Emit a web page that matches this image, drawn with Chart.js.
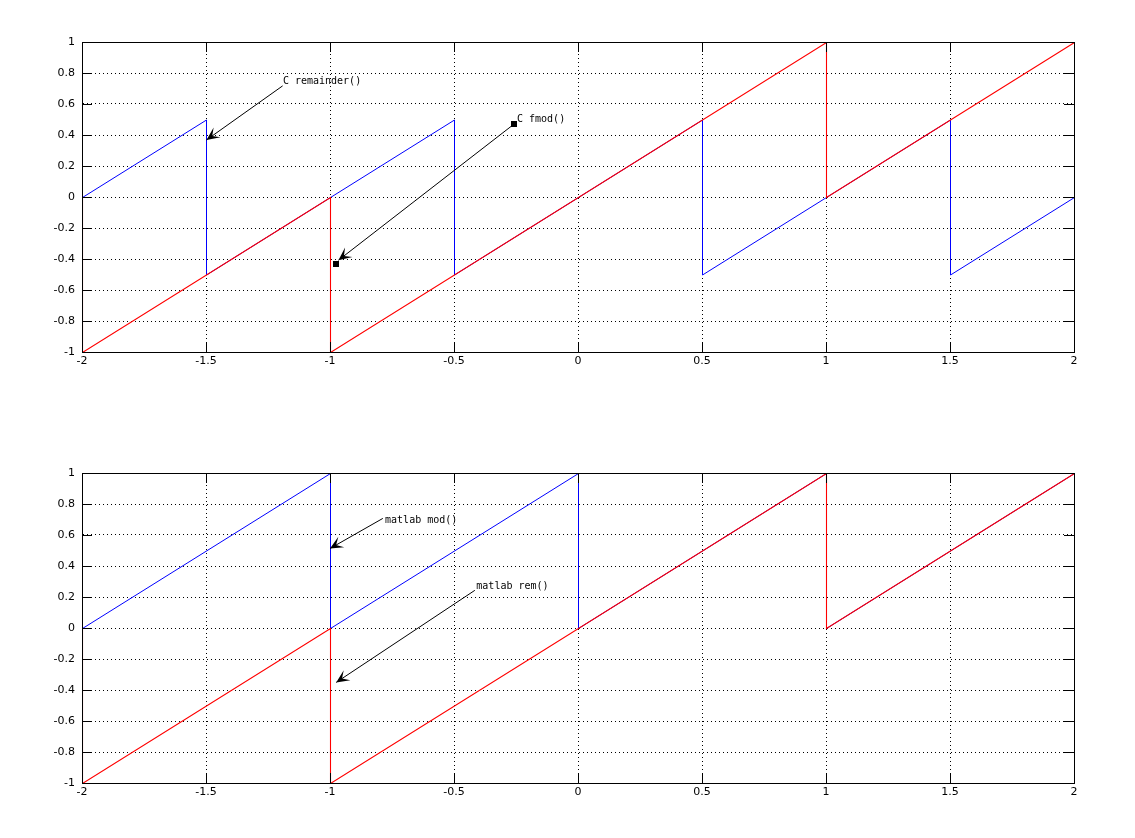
<!DOCTYPE html>
<html>
<head>
<meta charset="utf-8">
<script src="https://cdn.jsdelivr.net/npm/chart.js@4/dist/chart.umd.min.js"></script>
<style>
  html, body { margin: 0; padding: 0; background: #fff; }
  #wrap { position: relative; width: 1135px; height: 838px; }
  .box { position: absolute; left: 0; width: 1135px; }
  #top { top: 0; height: 420px; }
  #bottom { top: 420px; height: 418px; }
</style>
</head>
<body>
<div id="wrap">
  <div class="box" id="top"><canvas id="chartTop"></canvas></div>
  <div class="box" id="bottom"><canvas id="chartBottom"></canvas></div>
</div>
<script>
// tick values
const xTicks = [-2, -1.5, -1, -0.5, 0, 0.5, 1, 1.5, 2];
const yTicks = [-1, -0.8, -0.6, -0.4, -0.2, 0, 0.2, 0.4, 0.6, 0.8, 1];

// top plot: C fmod() (red) and C remainder() (blue)
const fmodX = [-2, -2, -1, -1, 1, 1, 2];
const fmodY = [0, -1, 0, -1, 1, 0, 1];
const remainderX = [-2, -1.5, -1.5, -0.5, -0.5, 0.5, 0.5, 1.5, 1.5, 2];
const remainderY = [0, 0.5, -0.5, 0.5, -0.5, 0.5, -0.5, 0.5, -0.5, 0];

// bottom plot: matlab rem() (red) and matlab mod() (blue)
const remX = [-2, -2, -1, -1, 1, 1, 2];
const remY = [0, -1, 0, -1, 1, 0, 1];
const modX = [-2, -1, -1, 0, 0, 1, 1, 2];
const modY = [0, 1, 0, 1, 0, 1, 0, 1];

// annotations (data units): text, arrow start, arrow tip
const topNotes = [
  { text: "C remainder()", tx: -1.19, ty: 0.748, x1: -1.191, y1: 0.717, x2: -1.498, y2: 0.368, squares: [] },
  { text: "C fmod()", tx: -0.246, ty: 0.502, x1: -0.259, y1: 0.469, x2: -0.966, y2: -0.408,
    squares: [[-0.259, 0.469], [-0.976, -0.432]] }
];
const bottomNotes = [
  { text: "matlab mod()", tx: -0.778, ty: 0.696, x1: -0.787, y1: 0.707, x2: -1.0, y2: 0.513, squares: [] },
  { text: "matlab rem()", tx: -0.41, ty: 0.27, x1: -0.416, y1: 0.243, x2: -0.975, y2: -0.351, squares: [] }
];

function pts(xs, ys) {
  return xs.map((x, i) => ({ x: x, y: ys[i] }));
}

function fmtTick(v) {
  if (Math.abs(v) < 1e-9) return "0";
  return String(Math.round(v * 10) / 10);
}

// frame with inner ticks on all four sides + annotations
const frameAndNotes = {
  id: "frameAndNotes",
  beforeDatasetsDraw(chart) {
    // shift half a pixel so vertical jumps come out crisp
    chart.ctx.save();
    chart.ctx.translate(0.5, 0.5);
  },
  afterDatasetsDraw(chart, args, opts) {
    const ctx = chart.ctx;
    ctx.restore();
    const a = chart.chartArea;
    const xs = chart.scales.x, ys = chart.scales.y;
    const tl = 10;
    ctx.save();
    ctx.strokeStyle = "#000";
    ctx.lineWidth = 1;
    ctx.beginPath();
    ctx.rect(Math.round(a.left) + 0.5, Math.round(a.top) + 0.5,
      Math.round(a.right - a.left), Math.round(a.bottom - a.top));
    xTicks.forEach(v => {
      const p = Math.round(xs.getPixelForValue(v)) + 0.5;
      ctx.moveTo(p, a.bottom); ctx.lineTo(p, a.bottom - tl);
      ctx.moveTo(p, a.top); ctx.lineTo(p, a.top + tl);
    });
    yTicks.forEach(v => {
      const p = Math.round(ys.getPixelForValue(v)) + 0.5;
      ctx.moveTo(a.left, p); ctx.lineTo(a.left + tl, p);
      ctx.moveTo(a.right, p); ctx.lineTo(a.right - tl, p);
    });
    ctx.stroke();

    // annotations
    const notes = opts.notes || [];
    ctx.fillStyle = "#000";
    ctx.font = "10px 'DejaVu Sans Mono'";
    ctx.textBaseline = "middle";
    ctx.textAlign = "left";
    notes.forEach(n => {
      const sx = xs.getPixelForValue(n.x1), sy = ys.getPixelForValue(n.y1);
      const ex = xs.getPixelForValue(n.x2), ey = ys.getPixelForValue(n.y2);
      ctx.beginPath();
      ctx.moveTo(sx, sy); ctx.lineTo(ex, ey);
      ctx.stroke();
      // notched arrow head
      const ang = Math.atan2(ey - sy, ex - sx);
      const L = 13, W = 6, N = 7;
      const c = Math.cos(ang), s = Math.sin(ang);
      ctx.beginPath();
      ctx.moveTo(ex, ey);
      ctx.lineTo(ex - L * c + W * s, ey - L * s - W * c);
      ctx.lineTo(ex - N * c, ey - N * s);
      ctx.lineTo(ex - L * c - W * s, ey - L * s + W * c);
      ctx.closePath();
      ctx.fill();
      n.squares.forEach(q => {
        const qx = xs.getPixelForValue(q[0]), qy = ys.getPixelForValue(q[1]);
        ctx.fillRect(Math.round(qx) - 3, Math.round(qy) - 3, 6, 6);
      });
      ctx.fillText(n.text, xs.getPixelForValue(n.tx), ys.getPixelForValue(n.ty));
    });
    ctx.restore();
  }
};

function makeChart(id, redPts, bluePts, notes, padTop, padBottom) {
  return new Chart(document.getElementById(id), {
    type: "line",
    data: {
      datasets: [
        { data: redPts, borderColor: "#ff0000", borderWidth: 1.1, pointRadius: 0, tension: 0, fill: false, order: 1 },
        { data: bluePts, borderColor: "#0000ff", borderWidth: 1, pointRadius: 0, tension: 0, fill: false, order: 2 }
      ]
    },
    options: {
      responsive: true,
      maintainAspectRatio: false,
      animation: false,
      events: [],
      layout: { padding: { top: padTop, bottom: padBottom, left: 0, right: 61 } },
      plugins: {
        legend: { display: false },
        tooltip: { enabled: false },
        frameAndNotes: { notes: notes }
      },
      scales: {
        x: {
          type: "linear",
          min: -2, max: 2,
          afterBuildTicks: s => { s.ticks = xTicks.map(v => ({ value: v })); },
          afterFit: s => { s.height = 30; },
          ticks: {
            color: "#000",
            font: { family: "'DejaVu Sans'", size: 11 },
            padding: 3,
            maxRotation: 0,
            autoSkip: false,
            callback: v => fmtTick(v)
          },
          grid: { color: "#000", lineWidth: 1, drawTicks: false },
          border: { display: true, color: "#000", dash: [1, 3] }
        },
        y: {
          min: -1, max: 1,
          afterBuildTicks: s => { s.ticks = yTicks.map(v => ({ value: v })); },
          afterFit: s => { s.width = 82; },
          ticks: {
            color: "#000",
            font: { family: "'DejaVu Sans'", size: 11 },
            padding: 7,
            autoSkip: false,
            callback: v => fmtTick(v)
          },
          grid: { color: "#000", lineWidth: 1, drawTicks: false },
          border: { display: true, color: "#000", dash: [1, 3] }
        }
      }
    },
    plugins: [frameAndNotes]
  });
}

makeChart("chartTop", pts(fmodX, fmodY), pts(remainderX, remainderY), topNotes, 42, 38);
makeChart("chartBottom", pts(remX, remY), pts(modX, modY), bottomNotes, 53, 25);
</script>
</body>
</html>
